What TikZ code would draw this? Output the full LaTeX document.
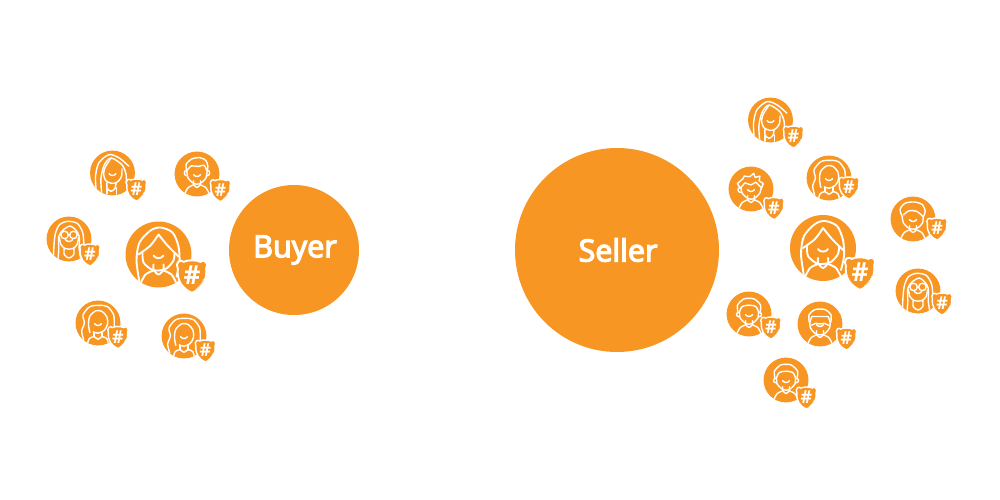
\documentclass[tikz,border=0pt]{standalone}
\usepackage{fontspec}
\setmainfont{Open Sans}
\newfontfamily\hubfont[FakeBold=4]{Open Sans}
\definecolor{brand}{HTML}{F89623}
\def\inkw{1.4pt}
\tikzset{
  x=1pt,y=-1pt,
  hublabel/.style={text=white,inner sep=0pt,font=\hubfont\fontsize{30.5}{34}\selectfont},
  ink/.style={draw=white,line width=\inkw,line cap=round,line join=round},
  hash/.style={text=white,inner sep=0pt,font=\bfseries\fontsize{25}{27}\selectfont,transform shape},
}
\newcommand{\Fshield}{%
    \path[fill=brand,draw=white,line width=\inkw] (0,17) .. controls (-9,13) and (-14.5,6) .. (-13.5,-6)
      .. controls (-14.5,-8) and (-15,-11) .. (-12.5,-13) .. controls (-10.5,-14) and (-9,-13.5) .. (-8,-12.5)
      .. controls (-4,-14.5) and (4,-14.5) .. (8,-12.5) .. controls (9,-13.5) and (10.5,-14) .. (12.5,-13)
      .. controls (15,-11) and (14.5,-8) .. (13.5,-6) .. controls (14.5,6) and (9,13) .. (0,17) -- cycle;
    \node[hash] at (0,0.5) {\#};
    \draw[draw=white,line width=.5pt] (11,4) .. controls (10,8) and (7,11) .. (4,13.5);
}
\newcommand{\Fbust}{%
    \draw[ink] plot[smooth] coordinates {(-18,29) (-13,20) (-5,16)};
    \draw[ink] plot[smooth] coordinates {(-5,10) (-5,15) (0,20) (5,15) (5,10)};
    \draw[ink] plot[smooth] coordinates {(5,16) (13,20) (18,29)};
}
\newcommand{\Fsmile}{\draw[ink] (-5,1) .. controls (-3,4.5) and (3,4.5) .. (5,1);}
\newcommand{\Flongfringe}{%
    \Fbust\Fsmile
    \draw[ink] plot[smooth] coordinates {(-19,28) (-22,6) (-19,-12) (-8,-24) (2,-27) (14,-22) (20,-8) (21,8) (18,22)};
    \draw[ink] plot[smooth] coordinates {(0,-20) (-8,-9) (-20,0)};
    \draw[ink] plot[smooth] coordinates {(0,-20) (9,-9) (20,2)};
    \draw[ink] plot[smooth] coordinates {(-16,-2) (-15,8) (-7,15) (0,16) (8,14) (15,6) (16,-2)};
}
\newcommand{\Fsidehair}{%
    \Fsmile
    \draw[ink] plot[smooth] coordinates {(-24,25) (-25,5) (-20,-15) (-5,-27) (10,-22) (24,-10)};
    \draw[ink] plot[smooth] coordinates {(-16,29) (-17,8) (-12,-12) (-2,-22) (14,-12) (20,2) (20,15)};
    \draw[ink] plot[smooth] coordinates {(-2,-22) (-11,-8) (-13,2) (-10,11) (-2,15) (6,14) (13,6) (14,-6)};
    \draw[ink] plot[smooth] coordinates {(-8,13) (-8,22) (-2,27) (4,22) (5,14)};
    \draw[ink] (-8,22) -- (-8,31) (6,22) -- (6,31);
}
\newcommand{\Fshortmale}{%
    \Fsmile\Fbust
    \draw[ink] plot[smooth] coordinates {(-15,-5) (-13,6) (-6,13) (0,15) (6,13) (13,6) (15,-5)};
    \draw[ink] plot[smooth] coordinates {(-15,-4) (-16,-14) (-8,-22) (4,-24) (13,-20) (16,-11) (15,-4)};
    \draw[ink] plot[smooth] coordinates {(-14,-6) (-8,-12) (2,-11) (10,-13) (14,-6)};
    \draw[ink] (-15,-5) .. controls (-20,-6) and (-20,3) .. (-14,3) (15,-5) .. controls (20,-6) and (20,3) .. (14,3);
}
\newcommand{\Fspiky}{%
    \Fsmile\Fbust
    \draw[ink] plot[smooth] coordinates {(-15,-3) (-13,6) (-6,13) (0,15) (6,13) (13,6) (15,-3)};
    \draw[ink] (-16,-1) -- (-20,-8) -- (-12,-15) -- (-10,-19) -- (-2,-18) -- (4,-23) -- (6,-17) -- (13,-19) -- (12,-12) -- (18,-8) -- (15,0);
    \draw[ink] (-15,-2) -- (-9,-9) -- (0,-6) -- (7,-10) -- (14,-3);
    \draw[ink] (-16,-2) .. controls (-21,-2) and (-20,6) .. (-14,5);
}
\newcommand{\Fband}{%
    \Fsmile\Fbust
    \draw[ink] plot[smooth] coordinates {(-14,-3) (-13,6) (-6,13) (0,15) (6,13) (13,6) (14,-3)};
    \draw[ink] plot[smooth] coordinates {(-16,-2) (-17,-13) (-8,-22) (0,-23) (8,-22) (17,-13) (16,-2)};
    \draw[ink] plot[smooth] coordinates {(-14,-3) (-10,-11) (0,-13) (10,-11) (14,-3)};
    \draw[ink] (-16,-2) .. controls (-20,-2) and (-19,5) .. (-14,4) (16,-2) .. controls (20,-2) and (19,5) .. (14,4);
}
\newcommand{\Fbeard}{%
    \Fsmile\Fbust
    \draw[ink] plot[smooth] coordinates {(-15,-4) (-14,6) (-7,14) (0,16) (7,14) (14,6) (15,-4)};
    \draw[ink] plot[smooth] coordinates {(-16,-3) (-16,-14) (-8,-21) (0,-22) (8,-21) (16,-14) (16,-3)};
    \draw[ink] (-15,-3) -- (-12,-11) -- (12,-11) -- (15,-3);
    \draw[ink] plot[smooth] coordinates {(-13,2) (-6,-1) (0,0) (6,-1) (13,2)};
}
\newcommand{\Fswept}{%
    \Fsmile\Fbust
    \draw[ink] plot[smooth] coordinates {(-16,-4) (-14,6) (-7,13) (0,15) (7,13) (14,6) (15,-3)};
    \draw[ink] plot[smooth] coordinates {(-16,-4) (-19,-14) (-12,-23) (2,-25) (14,-21) (18,-11) (15,-3)};
    \draw[ink] plot[smooth] coordinates {(-14,-6) (-6,-12) (6,-11) (15,-3)};
}
\newcommand{\Fglasses}{%
    \Fsmile
    \draw[ink] plot[smooth] coordinates {(-23,30) (-22,8) (-20,-8) (-14,-21) (-2,-26) (12,-23) (20,-10) (22,8) (24,25)};
    \draw[ink] plot[smooth] coordinates {(-16,29) (-15,14) (-15,-4) (-8,-14) (2,-19) (10,-13) (15,-4) (15,14) (17,28)};
    \draw[ink] (-6.5,-6) circle (5.5) (6.5,-6) circle (5.5) (-1,-6) -- (1,-6);
    \draw[ink] plot[smooth] coordinates {(-14,-2) (-12,8) (-6,14) (0,15) (6,14) (12,8) (14,-2)};
    \draw[ink] plot[smooth] coordinates {(-7,13) (-7,23) (0,28) (7,23) (7,13)};
}
\newcommand{\Fwavy}{%
    \Fsmile
    \draw[ink] plot[smooth] coordinates {(-21,25) (-24,12) (-20,0) (-22,-12) (-12,-24) (2,-26) (14,-24) (23,-12) (24,4) (26,14)};
    \draw[ink] plot[smooth] coordinates {(-12,14) (-14,2) (-12,-10) (-3,-18) (6,-17) (13,-9) (14,2) (9,11) (0,15) (-7,13)};
    \draw[ink] (-6,14) -- (-6,20) (6,14) -- (6,20);
    \draw[ink] plot[smooth] coordinates {(-15,29) (-13,23) (-6,20) (0,24) (6,20) (13,23) (15,29)};
}
\newcommand{\person}[6]{%
  \begin{scope}[shift={(#1,#2)}]
    \begin{scope}[scale=#6]
      \fill[brand] (0,0) circle (33);
      \begin{scope}
        \clip (0,0) circle (33);
        \csname F#5\endcsname
      \end{scope}
    \end{scope}
    \begin{scope}[shift={(#3,#4)},scale=1.05*#6]
      \Fshield
    \end{scope}
  \end{scope}}
\begin{document}
\begin{tikzpicture}
\useasboundingbox (0,0) rectangle (1000,500);
\fill[white] (0,0) rectangle (1000,500);
\node[circle,fill=brand,minimum size=130,inner sep=0pt] (buyer) at (294,250) {};
\node[hublabel] (buyerlabel) at (295,250) {Buyer};
\node[circle,fill=brand,minimum size=204,inner sep=0pt] (seller) at (617,250) {};
\node[hublabel] (sellerlabel) at (618,250) {Seller};
% buyer side
\def\inkw{1.9pt}
\person{158.5}{254.5}{33.5}{20.5}{longfringe}{1}
\def\inkw{1.4pt}
\person{112.5}{173}{24}{16}{sidehair}{.68}
\person{197}{174}{23.5}{15.5}{shortmale}{.68}
\person{69}{239}{21}{15}{glasses}{.68}
\person{98}{323}{20}{13.5}{wavy}{.68}
\person{184}{336}{21.5}{14}{wavy}{.68}
% seller side
\def\inkw{1.9pt}
\person{823}{248}{37}{24}{longfringe}{1}
\def\inkw{1.4pt}
\person{770.5}{120}{23}{16}{sidehair}{.68}
\person{751}{189}{23}{18.5}{spiky}{.68}
\person{829}{178}{20}{9}{wavy}{.68}
\person{913}{219}{24}{9}{swept}{.68}
\person{918}{291}{24}{12}{glasses}{.68}
\person{749}{314}{22}{13}{band}{.68}
\person{820}{324}{26.5}{14}{beard}{.68}
\person{786}{380}{20.5}{17}{band}{.68}
\end{tikzpicture}
\end{document}
